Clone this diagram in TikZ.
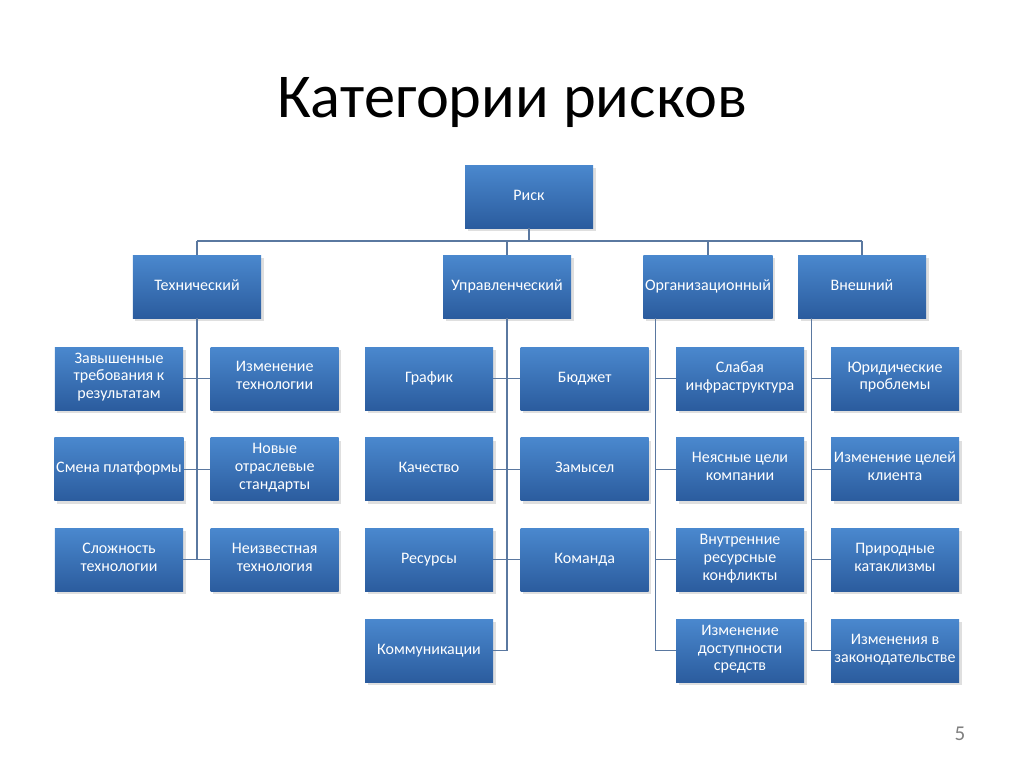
\documentclass[tikz,border=0pt]{standalone}
\usepackage{fontspec}
\setmainfont{Carlito}
\usetikzlibrary{positioning, shadows}

\definecolor{boxtop}{HTML}{4A88CE}
\definecolor{boxbot}{HTML}{2B5C9E}
\definecolor{linkcol}{HTML}{5A78A0}

\begin{document}
\begin{tikzpicture}[
  x=0.2mm, y=-0.2mm,
  node distance=5.4mm and 5.4mm,
  box/.style={rectangle, top color=boxtop, bottom color=boxbot, draw=none,
              minimum width=25.6mm, minimum height=12.6mm,
              font=\fontsize{9.1}{10.2}\selectfont, text=white, align=center, inner sep=1pt,
              execute at begin node=\strut, execute at end node=\strut,
              drop shadow={opacity=0.25, shadow xshift=0.5mm, shadow yshift=-0.6mm}},
  link/.style={draw=linkcol, line width=0.6pt}
]
\useasboundingbox (0,0) rectangle (1024,767);
\node[font=\fontsize{35.5}{40}\selectfont] (title) at (512,103) {Категории рисков};
\node[font=\fontsize{12}{14}\selectfont, text=gray] (page) at (960,734) {5};

% top levels
\node[box] (risk) at (529,196.5) {Риск};
\node[box] (tech) at (197,286.5) {Технический};
\node[box] (mgmt) at (507,286.5) {Управленческий};
\node[box] (org) at (708,286.5) {Организационный};
\node[box] (ext) at (862,286.5) {Внешний};
\coordinate (busL) at (197,241);
\coordinate (busR) at (862,241);

% technical
\node[box] (t1) at (119,378.5) {Завышенные\\требования к\\результатам};
\node[box, right=of t1] (t2) {Изменение\\технологии};
\node[box, below=of t1] (t3) {Смена платформы};
\node[box, below=of t2] (t4) {Новые\\отраслевые\\стандарты};
\node[box, below=of t3] (t5) {Сложность\\технологии};
\node[box, below=of t4] (t6) {Неизвестная\\технология};

% managerial
\node[box] (m1) at (429,378.5) {График};
\node[box, right=of m1] (m2) {Бюджет};
\node[box, below=of m1] (m3) {Качество};
\node[box, below=of m2] (m4) {Замысел};
\node[box, below=of m3] (m5) {Ресурсы};
\node[box, below=of m4] (m6) {Команда};
\node[box, below=of m5] (m7) {Коммуникации};

% organizational
\node[box] (o1) at (740,378.5) {Слабая\\инфраструктура};
\node[box, below=of o1] (o2) {Неясные цели\\компании};
\node[box, below=of o2] (o3) {Внутренние\\ресурсные\\конфликты};
\node[box, below=of o3] (o4) {Изменение\\доступности\\средств};

% external
\node[box] (e1) at (895,378.5) {Юридические\\проблемы};
\node[box, below=of e1] (e2) {Изменение целей\\клиента};
\node[box, below=of e2] (e3) {Природные\\катаклизмы};
\node[box, below=of e3] (e4) {Изменения в\\законодательстве};

% connectors
\draw[link] (busL) -- (busR);
\draw[link] (risk.south) -- (risk.south |- busL);
\draw[link] (tech.north) -- (busL);
\draw[link] (mgmt.north) -- (mgmt.north |- busL);
\draw[link] (org.north) -- (org.north |- busL);
\draw[link] (ext.north) -- (busR);

\draw[link] (tech.south) -- (tech.south |- t5.east);
\draw[link] (t1.east) -- (t2.west);
\draw[link] (t3.east) -- (t4.west);
\draw[link] (t5.east) -- (t6.west);

\draw[link] (mgmt.south) -- (mgmt.south |- m7.east) -- (m7.east);
\draw[link] (m1.east) -- (m2.west);
\draw[link] (m3.east) -- (m4.west);
\draw[link] (m5.east) -- (m6.west);

\coordinate (orgtrunk) at ([xshift=2.6mm]org.south west);
\draw[link] (orgtrunk) |- (o4.west);
\draw[link] (o1.west) -- (o1.west -| orgtrunk);
\draw[link] (o2.west) -- (o2.west -| orgtrunk);
\draw[link] (o3.west) -- (o3.west -| orgtrunk);

\coordinate (exttrunk) at ([xshift=2.8mm]ext.south west);
\draw[link] (exttrunk) |- (e4.west);
\draw[link] (e1.west) -- (e1.west -| exttrunk);
\draw[link] (e2.west) -- (e2.west -| exttrunk);
\draw[link] (e3.west) -- (e3.west -| exttrunk);
\end{tikzpicture}
\end{document}
